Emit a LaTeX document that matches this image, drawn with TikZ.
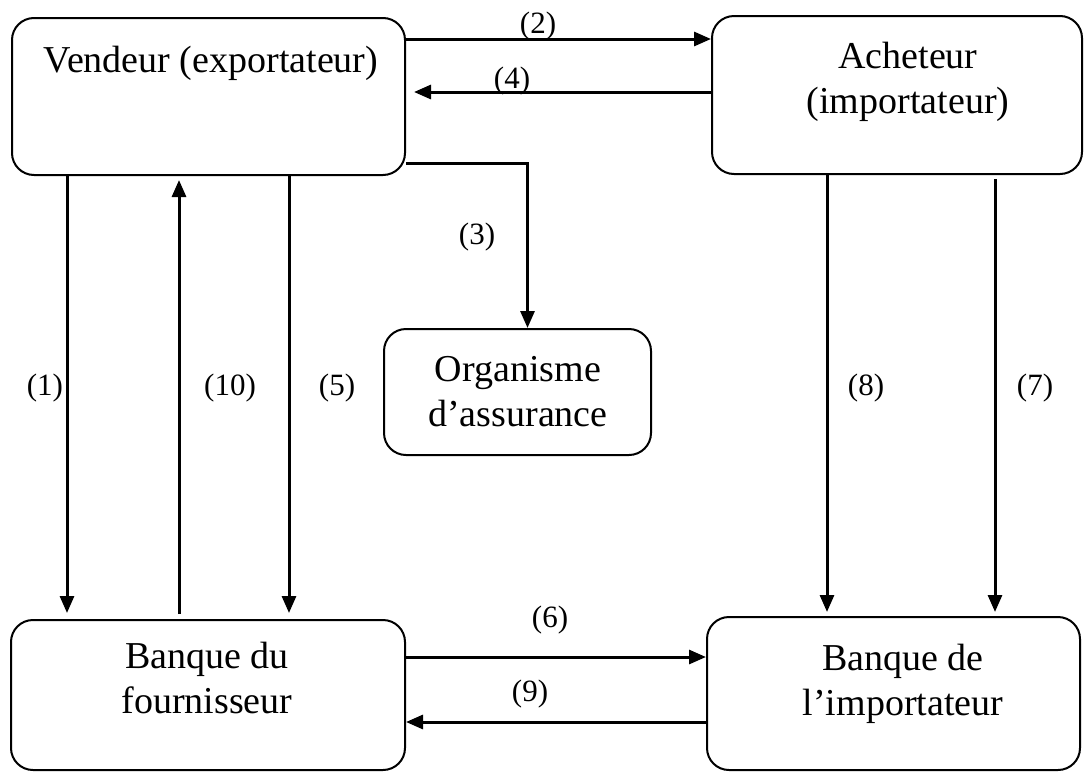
\documentclass[tikz,border=0pt]{standalone}
\usepackage{fontspec}
\setmainfont{Liberation Serif}
\usetikzlibrary{arrows.meta}
\tikzset{
  box/.style={draw, line width=2pt, rounded corners=22pt, inner sep=0pt},
  boxtext/.style={font=\fontsize{38}{45}\selectfont, align=center, anchor=base, inner sep=0pt},
  flow/.style={line width=3pt, -{Triangle[length=17pt,width=14pt]}},
  num/.style={font=\fontsize{31}{36}\selectfont, inner sep=0pt}
}
\begin{document}
\begin{tikzpicture}[x=1pt, y=-1pt]
\useasboundingbox (0,0) rectangle (1092,774);

% boxes
\node[box, minimum width=393pt, minimum height=157pt] (V)  at (208.5,96.5) {};
\node[box, minimum width=370pt, minimum height=158pt] (A)  at (897,95)     {};
\node[box, minimum width=267pt, minimum height=126pt] (O)  at (517.5,392)  {};
\node[box, minimum width=394pt, minimum height=150pt] (BF) at (208,695)    {};
\node[box, minimum width=373pt, minimum height=153pt] (BI) at (893.5,693.5) {};

% box texts (anchored on the baseline of the last line)
\node[boxtext] (Vt)  at (211,72)  {Vendeur (exportateur)};
\node[boxtext] (At)  at (908,113) {Acheteur\\(importateur)};
\node[boxtext] (Ot)  at (518,426) {Organisme\\d’assurance};
\node[boxtext] (BFt) at (207,713) {Banque du\\fournisseur};
\node[boxtext] (BIt) at (903,715) {Banque de\\l’importateur};

% connectors
\draw[flow] ([yshift=-22pt]V.north east) -- ([yshift=-24pt]A.north west);
\draw[flow] ([yshift=-77pt]A.north west) -- ([yshift=-75pt,xshift=8pt]V.north east);
\draw[flow] ([yshift=13pt]V.south east) -| ([xshift=10pt]O.north);
\draw[flow] ([xshift=56pt]V.south west) -- ([xshift=57pt,yshift=6pt]BF.north west);
\draw[flow] ([xshift=169pt,yshift=5pt]BF.north west) -- ([xshift=168pt,yshift=-4pt]V.south west);
\draw[flow] ([xshift=278pt]V.south west) -- ([xshift=279pt,yshift=6pt]BF.north west);
\draw[flow] ([xshift=116pt]A.south west) -- ([xshift=121pt,yshift=4pt]BI.north west);
\draw[flow] ([xshift=284pt,yshift=-4pt]A.south west) -- ([xshift=289pt,yshift=4pt]BI.north west);
\draw[flow] ([yshift=-38pt]BF.north east) -- ([yshift=-41pt]BI.north west);
\draw[flow] ([yshift=-106pt]BI.north west) -- ([yshift=-103pt]BF.north east);

% step numbers
\node[num] (n2)  at (538,26)  {(2)};
\node[num] (n4)  at (512,81)  {(4)};
\node[num] (n3)  at (477,237) {(3)};
\node[num] (n1)  at (45,388)  {(1)};
\node[num] (n10) at (230,388) {(10)};
\node[num] (n5)  at (337,388) {(5)};
\node[num] (n8)  at (866,388) {(8)};
\node[num] (n7)  at (1035,388) {(7)};
\node[num] (n6)  at (550,620) {(6)};
\node[num] (n9)  at (530,694) {(9)};
\end{tikzpicture}
\end{document}
